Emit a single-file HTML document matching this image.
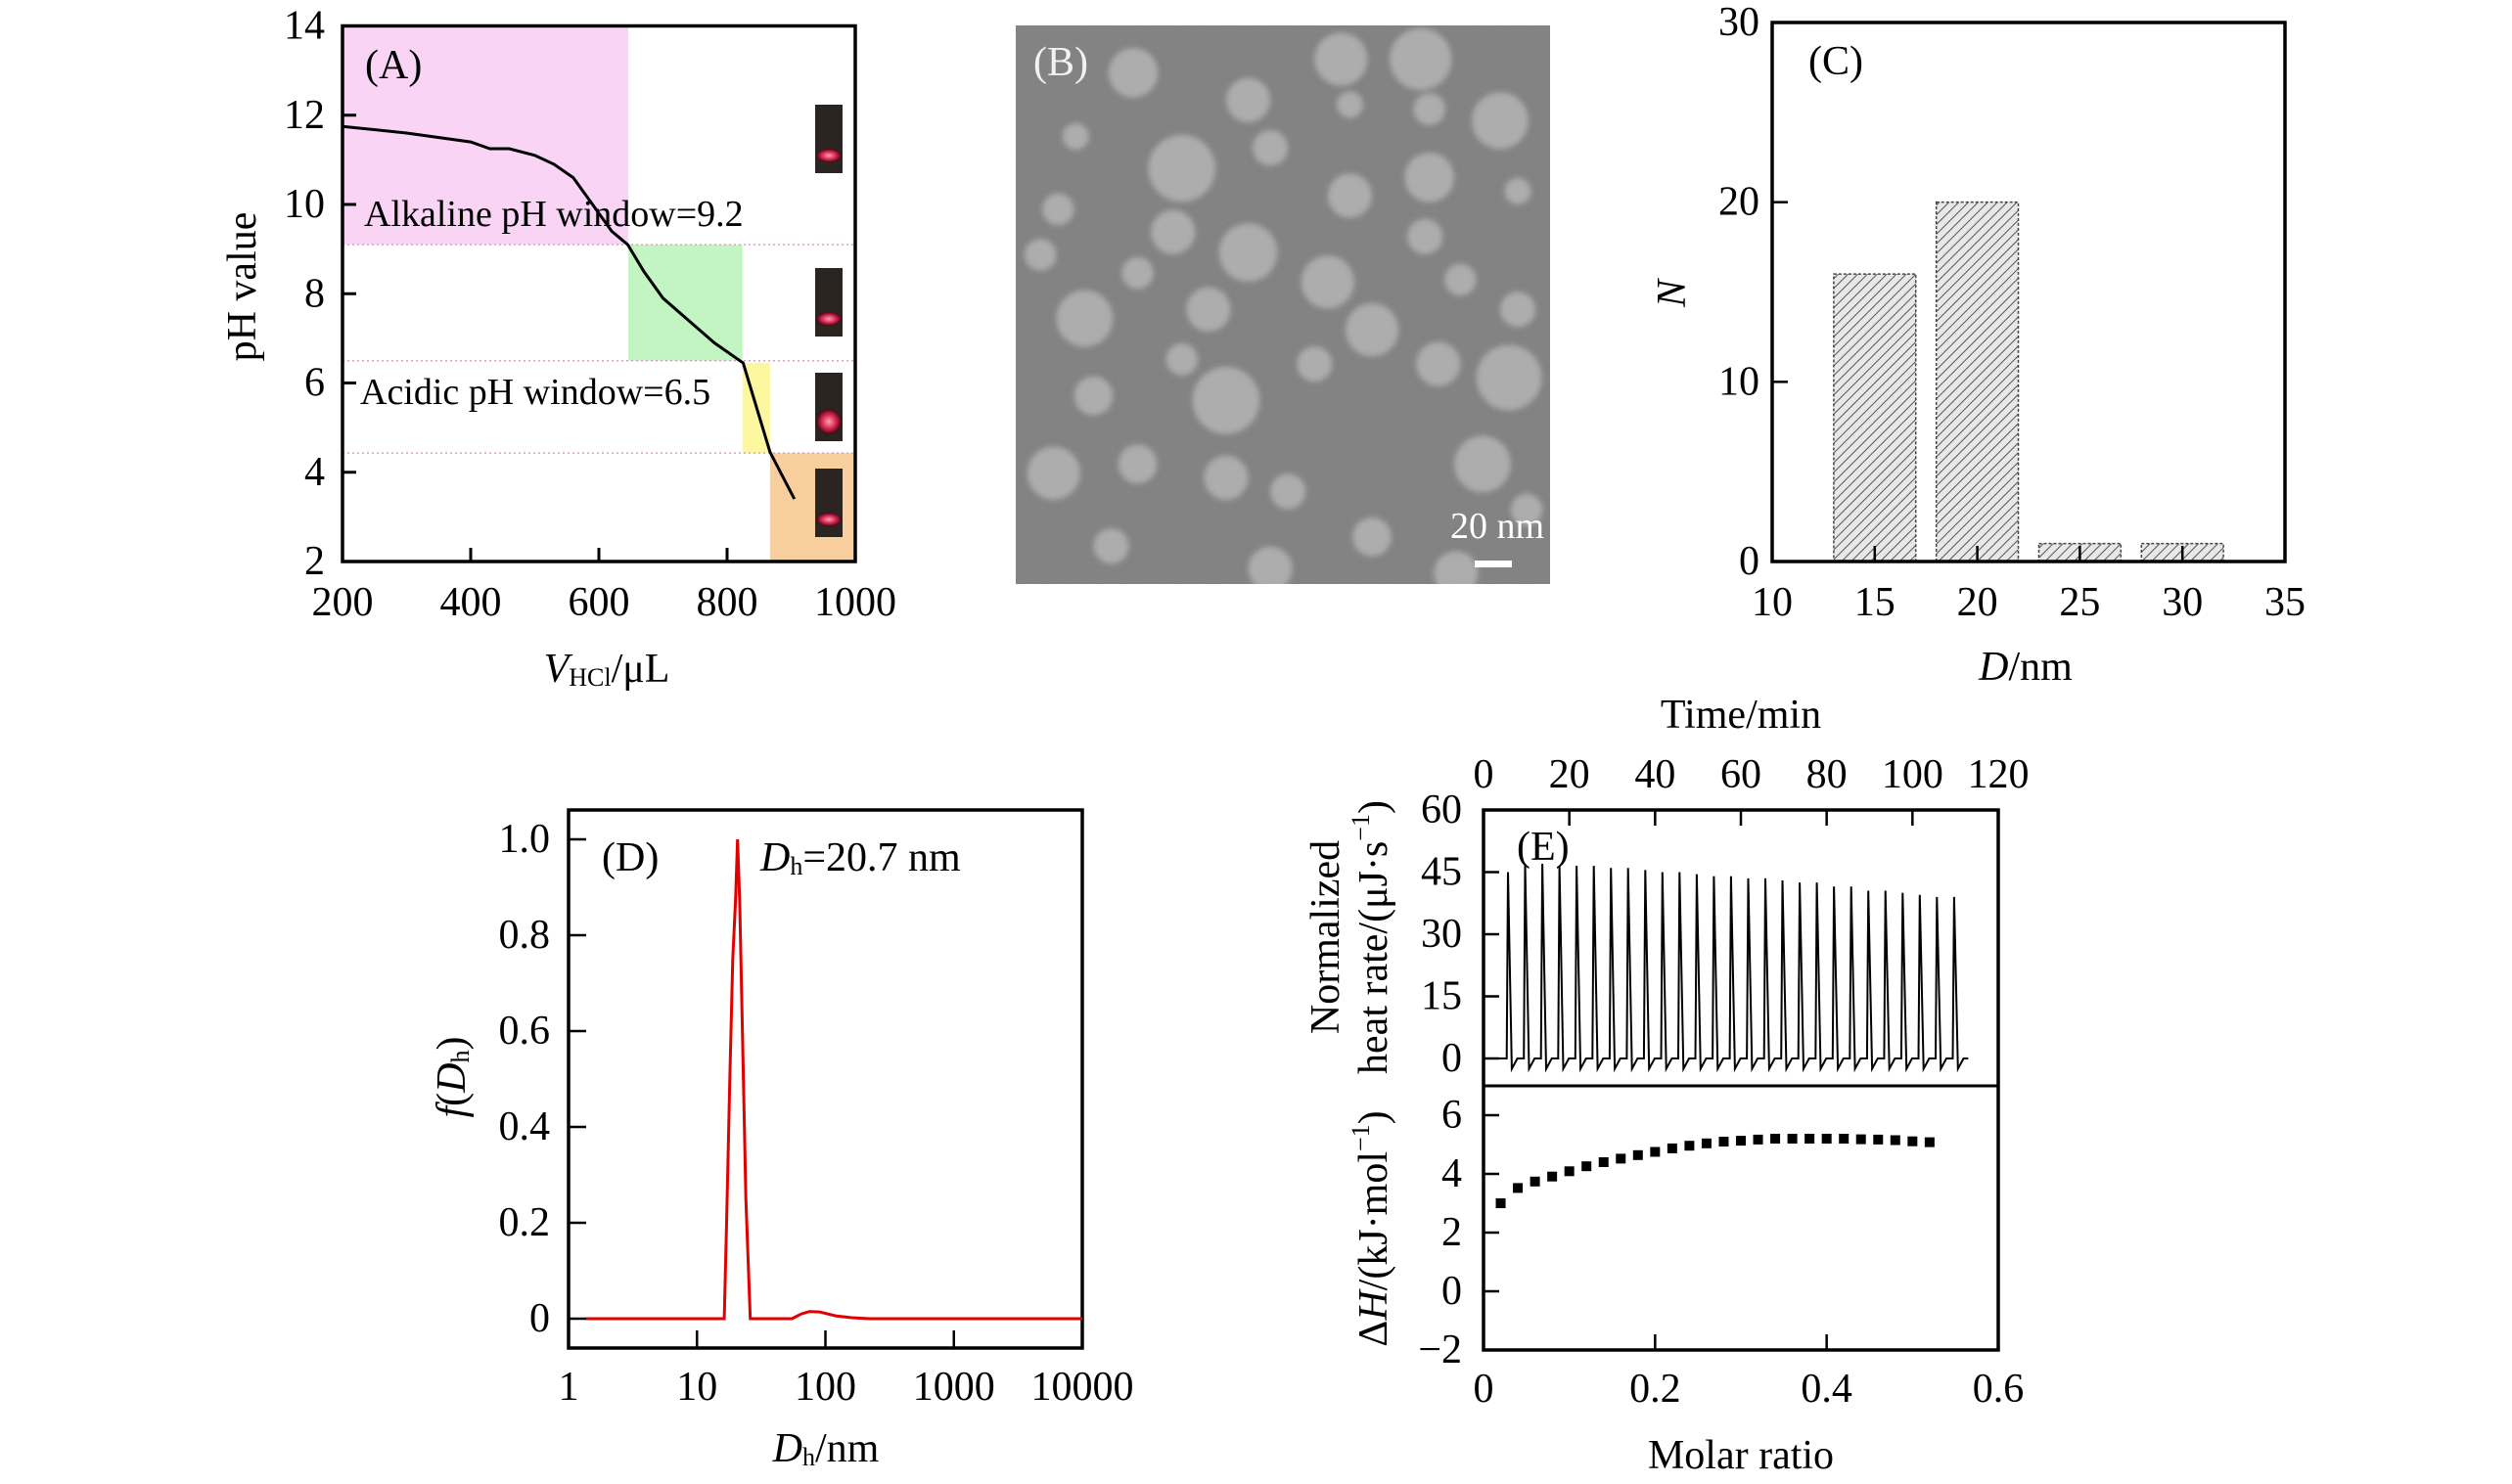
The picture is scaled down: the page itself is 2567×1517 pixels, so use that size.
<!DOCTYPE html>
<html><head><meta charset="utf-8"><style>
html,body{margin:0;padding:0;background:#fff;}
svg text{font-family:"Liberation Serif","Times New Roman",serif;fill:#000;}
</style></head><body>
<svg id="fig" xmlns="http://www.w3.org/2000/svg" width="2567" height="1512" viewBox="0 0 2567 1512">
<defs>
<pattern id="hatch" patternUnits="userSpaceOnUse" width="7" height="7" patternTransform="rotate(45)">
<rect width="7" height="7" fill="#e8e8e8"/><line x1="0" y1="0" x2="0" y2="7" stroke="#555" stroke-width="2"/>
</pattern>
<filter id="blur3"><feGaussianBlur stdDeviation="3"/></filter>
<filter id="noise" x="0" y="0" width="1" height="1"><feTurbulence type="fractalNoise" baseFrequency="0.9" numOctaves="2" result="n"/><feColorMatrix type="saturate" values="0"/><feComponentTransfer><feFuncA type="linear" slope="0.18"/></feComponentTransfer></filter>
<radialGradient id="glow" cx="0.5" cy="0.5" r="0.5"><stop offset="0" stop-color="#ff9fb5"/><stop offset="0.6" stop-color="#d0204a"/><stop offset="1" stop-color="#3a0a10"/></radialGradient>
<clipPath id="bclip"><rect x="1038" y="26" width="546" height="571"/></clipPath>
</defs>
<g id="A"></g>
<g id="B"></g>
<g id="C"></g>
<g id="D"></g>
<g id="E"></g>
</svg>
<script>
// ---------- DATA ----------
const aVolumes = [200,300,400,430,460,500,530,560,590,620,645,670,700,740,780,825,867,905];
const aPH = [11.75,11.6,11.4,11.25,11.25,11.1,10.9,10.6,10.0,9.4,9.1,8.5,7.9,7.4,6.9,6.45,4.45,3.4];
const aXTicks = [200,400,600,800,1000];
const aYTicks = [2,4,6,8,10,12,14];
const aRegionX0 = [200,646,824,867];
const aRegionX1 = [646,824,867,1000];
const aRegionY0 = [9.1,6.5,4.43,2];
const aRegionY1 = [14,9.1,6.45,4.43];
const aRegionColors = ['#f9d4f5','#c2f5c2','#fdf7a0','#f8cf9c'];
const aThresholds = [9.1,6.5,4.43];
const cCenters = [15,20,25,30];
const cCounts = [16,20,1,1];
const cXTicks = [10,15,20,25,30,35];
const cYTicks = [0,10,20,30];
const dSizes = [1.37,16.3,17,18,19,20,20.7,21.5,23,24,26,55,65,75,90,120,160,220,10000];
const dFreq = [0,0,0.2,0.5,0.75,0.88,1.0,0.87,0.5,0.25,0,0,0.01,0.015,0.014,0.006,0.002,0,0];
const dXTicks = [1,10,100,1000,10000];
const dYTicks = [0,0.2,0.4,0.6,0.8,1.0];
const eTimes = [5.7,9.7,13.7,17.7,21.7,25.7,29.7,33.7,37.7,41.7,45.7,49.7,53.7,57.7,61.7,65.7,69.7,73.7,77.7,81.7,85.7,89.7,93.7,97.7,101.7,105.7,109.7];
const eHeights = [45,47,47,46.5,46.5,46.5,46,46,45.5,45,45,44.5,44,44,43.5,43.5,43,42.5,42.5,41.5,41.5,40.5,40.5,40,39.5,39,39];
const eRatios = [0.02,0.04,0.06,0.08,0.10,0.12,0.14,0.16,0.18,0.20,0.22,0.24,0.26,0.28,0.30,0.32,0.34,0.36,0.38,0.40,0.42,0.44,0.46,0.48,0.50,0.52];
const eDH = [3.0,3.52,3.74,3.91,4.09,4.26,4.4,4.52,4.64,4.75,4.87,4.96,5.04,5.1,5.13,5.17,5.2,5.2,5.2,5.2,5.2,5.18,5.17,5.15,5.11,5.08];
const eTimeTicks = [0,20,40,60,80,100,120];
const eHeatTicks = [0,15,30,45,60];
const eRatioTicks = [0,0.2,0.4,0.6];
const eDHTicks = [-2,0,2,4,6];

// ---------- HELPERS ----------
const NS='http://www.w3.org/2000/svg';
function mk(parent,tag,attrs){const e=document.createElementNS(NS,tag);for(const k in attrs)e.setAttribute(k,attrs[k]);parent.appendChild(e);return e;}
function txt(parent,x,y,s,size,anchor,extra){const t=mk(parent,'text',Object.assign({x:x,y:y,'font-size':size,'text-anchor':anchor||'middle','dominant-baseline':'central'},extra||{}));t.textContent=s;return t;}
const FS=42;

// ---------- PANEL A ----------
(function(){
const g=document.getElementById('A');
const L=350,R=874,T=26.5,B=574;
const x=v=>L+(v-200)*(R-L)/800, y=v=>B-(v-2)*(B-T)/12;
for(let i=0;i<aRegionX0.length;i++){
 const r=mk(g,'rect',{x:x(aRegionX0[i]),y:y(aRegionY1[i]),width:x(aRegionX1[i])-x(aRegionX0[i]),height:y(aRegionY0[i])-y(aRegionY1[i]),fill:aRegionColors[i]});
 
 
}
for(let i=0;i<aThresholds.length;i++){
 const l=mk(g,'line',{x1:L,x2:R,y1:y(aThresholds[i]),y2:y(aThresholds[i]),stroke:'#d9a0c0','stroke-width':1.5,'stroke-dasharray':'2,3'});
 
 
}
const vy=[107,274,381,479];
for(let i=0;i<vy.length;i++){
 const v=mk(g,'rect',{x:833,y:vy[i],width:28,height:70,fill:'#2a2520'});
 
 
 const gl=mk(g,'ellipse',{cx:847,cy:vy[i]+(i===2?50:52),rx:13,ry:i===2?13:7,fill:'url(#glow)'});
 
 
}
let d='';aVolumes.forEach((v,i)=>{d+=(i?'L':'M')+x(v).toFixed(1)+','+y(aPH[i]).toFixed(1);});
const p=mk(g,'path',{d:d,fill:'none',stroke:'#000','stroke-width':3});


const fr=mk(g,'rect',{x:L,y:T,width:R-L,height:B-T,fill:'none',stroke:'#000','stroke-width':3.5});


aXTicks.forEach(v=>{
 const t=mk(g,'line',{x1:x(v),x2:x(v),y1:B,y2:B-14,stroke:'#000','stroke-width':3});
 
 
 const l=txt(g,x(v),616,String(v),FS);
 
 
});
aYTicks.forEach(v=>{
 const t=mk(g,'line',{x1:L,x2:L+14,y1:y(v),y2:y(v),stroke:'#000','stroke-width':3});
 
 
 const l=txt(g,332,y(v),String(v),FS,'end');
 
 
});
let t=txt(g,373,67,'(A)',FS,'start');
t=txt(g,372,219,'Alkaline pH window=9.2',38,'start');
t=txt(g,368,401,'Acidic pH window=6.5',38,'start');
t=txt(g,248,293,'pH value',FS,'middle',{transform:'rotate(-90 248 293)'});
t=mk(g,'text',{x:620,y:684,'font-size':FS,'text-anchor':'middle','dominant-baseline':'central'});
t.innerHTML='<tspan font-style="italic">V</tspan><tspan font-size="26" dy="8">HCl</tspan><tspan dy="-8">/μL</tspan>';

})();

// ---------- PANEL B (TEM image) ----------
(function(){
const g=document.getElementById('B');
const cl=mk(g,'g',{'clip-path':'url(#bclip)'});

const bg=mk(cl,'rect',{x:1038,y:26,width:546,height:571,fill:'#7e7e7e'});

const circ=[[500,130,35],[410,130,30],[590,265,32],[230,370,38],[305,555,33],[395,620,30],[120,700,32],[445,725,30],[600,830,37],[280,880,38],[510,390,28],[420,430,25],[175,160,28],[305,220,25],[260,680,25],[520,800,25],[570,1020,32],[85,1040,30],[180,1020,22],[280,1050,25],[445,1180,22],[330,1250,25],[540,1260,25],[220,510,25],[505,520,20],[545,615,18],[610,680,20],[330,325,20],[420,230,15],[510,240,18],[130,870,22],[380,800,20],[230,790,18],[180,600,18],[90,460,18],[610,420,15],[350,1080,20],[150,1200,20],[70,560,18],[110,300,15],[620,1120,18]];
const cg=mk(cl,'g',{filter:'url(#blur3)'});

circ.forEach(c=>{
 const e=mk(cg,'circle',{cx:1000+c[0]/1.107,cy:c[1]/2.15,r:c[2]/1.107,fill:'#b4b4b4',opacity:0.85});
 
});
const nz=mk(cl,'rect',{x:1038,y:26,width:546,height:571,filter:'url(#noise)'});

let t=txt(g,1056,64,'(B)',FS,'start');t.style.fill='#f2f2f2';
t=txt(g,1530,538,'20 nm',38,'middle');t.style.fill='#fff';
const sb=mk(g,'rect',{x:1507,y:573,width:38,height:7,fill:'#fff'});

})();

// ---------- PANEL C ----------
(function(){
const g=document.getElementById('C');
const L=1811,R=2335,T=23,B=574;
const x=v=>L+(v-10)*(R-L)/25, y=v=>B-v*(B-T)/30;
cCenters.forEach((c,i)=>{
 const r=mk(g,'rect',{x:x(c-2),y:y(cCounts[i]),width:x(c+2)-x(c-2),height:B-y(cCounts[i]),fill:'url(#hatch)',stroke:'#444','stroke-width':1.5,'stroke-dasharray':'3,2'});
 
});
const fr=mk(g,'rect',{x:L,y:T,width:R-L,height:B-T,fill:'none',stroke:'#000','stroke-width':3.5});

cXTicks.forEach(v=>{
 const t=mk(g,'line',{x1:x(v),x2:x(v),y1:B,y2:B-16,stroke:'#000','stroke-width':2.5});
 
 const l=txt(g,x(v),616,String(v),FS);
 
});
cYTicks.forEach(v=>{
 const t=mk(g,'line',{x1:L,x2:L+16,y1:y(v),y2:y(v),stroke:'#000','stroke-width':2.5});
 
 const l=txt(g,1798,y(v),String(v),FS,'end');
 
});
let t=txt(g,1848,63,'(C)',FS,'start');
t=txt(g,1709,300,'N',FS,'middle',{'font-style':'italic',transform:'rotate(-90 1709 300)'});
t=mk(g,'text',{x:2070,y:682,'font-size':FS,'text-anchor':'middle','dominant-baseline':'central'});
t.innerHTML='<tspan font-style="italic">D</tspan>/nm';

})();

// ---------- PANEL D ----------
(function(){
const g=document.getElementById('D');
const L=581,R=1106,T=828,B=1378,Y1=858,Y0=1348;
const x=v=>L+Math.log10(v)*(R-L)/4, y=v=>Y0-v*(Y0-Y1);
const fr=mk(g,'rect',{x:L,y:T,width:R-L,height:B-T,fill:'none',stroke:'#000','stroke-width':3.5});

let d='';dSizes.forEach((v,i)=>{d+=(i?'L':'M')+x(v).toFixed(1)+','+y(dFreq[i]).toFixed(1);});
const p=mk(g,'path',{d:d,fill:'none',stroke:'#e00000','stroke-width':3});

dXTicks.forEach(v=>{
 const t=mk(g,'line',{x1:x(v),x2:x(v),y1:B,y2:B-18,stroke:'#000','stroke-width':2.5});
 
 const l=txt(g,x(v),1418,String(v),FS);
 
});
dYTicks.forEach(v=>{
 const t=mk(g,'line',{x1:L,x2:L+18,y1:y(v),y2:y(v),stroke:'#000','stroke-width':2.5});
 
 const l=txt(g,562,y(v),v===0?'0':v.toFixed(1),FS,'end');
 
});
let t=txt(g,615,877,'(D)',FS,'start');
t=mk(g,'text',{x:777,y:877,'font-size':FS,'text-anchor':'start','dominant-baseline':'central'});
t.innerHTML='<tspan font-style="italic">D</tspan><tspan font-size="26" dy="8">h</tspan><tspan dy="-8">=20.7 nm</tspan>';

t=mk(g,'text',{x:462,y:1101,'font-size':FS,'text-anchor':'middle','dominant-baseline':'central',transform:'rotate(-90 462 1101)'});
t.innerHTML='<tspan font-style="italic">f</tspan>(<tspan font-style="italic">D</tspan><tspan font-size="26" dy="8">h</tspan><tspan dy="-8">)</tspan>';

t=mk(g,'text',{x:844,y:1481,'font-size':FS,'text-anchor':'middle','dominant-baseline':'central'});
t.innerHTML='<tspan font-style="italic">D</tspan><tspan font-size="26" dy="8">h</tspan><tspan dy="-8">/nm</tspan>';

})();

// ---------- PANEL E ----------
(function(){
const g=document.getElementById('E');
const L=1516,R=2042,T=828,M=1110,B=1380;
const xt=v=>L+v*(R-L)/120, yh=v=>1082-v*(1082-T)/60;
const xr=v=>L+v*(R-L)/0.6, yd=v=>B-(v+2)*(B-1140)/8;
let d='M'+xt(0)+','+yh(0);
eTimes.forEach((tm,i)=>{
 d+='L'+xt(tm-0.3).toFixed(1)+','+yh(0).toFixed(1)+'L'+xt(tm).toFixed(1)+','+yh(eHeights[i]).toFixed(1)+'L'+xt(tm+0.9).toFixed(1)+','+yh(-2.5).toFixed(1)+'L'+xt(tm+2.2).toFixed(1)+','+yh(0).toFixed(1);
});
d+='L'+xt(113)+','+yh(0);
const p=mk(g,'path',{d:d,fill:'none',stroke:'#000','stroke-width':2});

eRatios.forEach((r,i)=>{
 const s=mk(g,'rect',{x:xr(r)-5,y:yd(eDH[i])-5,width:10,height:10,fill:'#000'});
 
});
const f1=mk(g,'rect',{x:L,y:T,width:R-L,height:B-T,fill:'none',stroke:'#000','stroke-width':3.5});

const div=mk(g,'line',{x1:L,x2:R,y1:M,y2:M,stroke:'#000','stroke-width':3});

eTimeTicks.forEach(v=>{
 const t=mk(g,'line',{x1:xt(v),x2:xt(v),y1:T,y2:T+16,stroke:'#000','stroke-width':2.5});
 
 const l=txt(g,xt(v),792,String(v),FS);
 
});
eHeatTicks.forEach(v=>{
 const t=mk(g,'line',{x1:L,x2:L+16,y1:yh(v),y2:yh(v),stroke:'#000','stroke-width':2.5});
 
 const l=txt(g,1494,yh(v),String(v),FS,'end');
 
});
eRatioTicks.forEach(v=>{
 const t=mk(g,'line',{x1:xr(v),x2:xr(v),y1:B,y2:B-16,stroke:'#000','stroke-width':2.5});
 
 const l=txt(g,xr(v),1420,v===0?'0':String(v),FS);
 
});
eDHTicks.forEach(v=>{
 const t=mk(g,'line',{x1:L,x2:L+16,y1:yd(v),y2:yd(v),stroke:'#000','stroke-width':2.5});
 
 const l=txt(g,1494,yd(v),v<0?'\u2212'+(-v):String(v),FS,'end');
 
});
let t=txt(g,1550,866,'(E)',FS,'start');
t=txt(g,1779,731,'Time/min',FS);
t=txt(g,1779,1488,'Molar ratio',FS);
t=txt(g,1355,958,'Normalized',FS,'middle',{transform:'rotate(-90 1355 958)'});
t=mk(g,'text',{x:1404,y:958,'font-size':FS,'text-anchor':'middle','dominant-baseline':'central',transform:'rotate(-90 1404 958)'});
t.innerHTML='heat rate/(μJ·s<tspan font-size="26" dy="-14">−1</tspan><tspan dy="14">)</tspan>';

t=mk(g,'text',{x:1404,y:1256,'font-size':FS,'text-anchor':'middle','dominant-baseline':'central',transform:'rotate(-90 1404 1256)'});
t.innerHTML='Δ<tspan font-style="italic">H</tspan>/(kJ·mol<tspan font-size="26" dy="-14">−1</tspan><tspan dy="14">)</tspan>';

})();
</script>
</body></html>
